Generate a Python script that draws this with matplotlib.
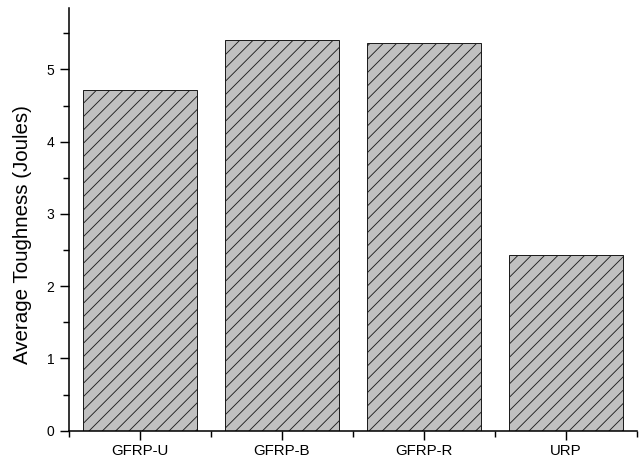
import matplotlib
matplotlib.use("Agg")
import matplotlib.pyplot as plt
from matplotlib.ticker import MultipleLocator, FixedLocator

# ------------------ DATA ------------------
samples = ["GFRP-U", "GFRP-B", "GFRP-R", "URP"]
toughness = [4.72, 5.41, 5.37, 2.43]

plt.rcParams["font.family"] = ["Liberation Sans", "DejaVu Sans"]
plt.rcParams["hatch.color"] = "#3c3c3c"
plt.rcParams["hatch.linewidth"] = 0.8

# dpi 80 so the '//' hatch spacing is close to the original
DPI = 80
W, H = 643, 462
fig = plt.figure(figsize=(W / DPI, H / DPI), dpi=DPI)
ax = fig.add_axes([69 / W, (H - 430.7) / H, 568 / W, (430.7 - 8) / H])

x = range(len(samples))
ax.bar(x, toughness, width=0.8, color="#c0c0c0", edgecolor="#1e1e1e",
       linewidth=0.9, hatch="//")

ax.set_xlim(-0.5, len(samples) - 0.5)
ax.set_ylim(0, 5.85)

# category labels at the centres, small ticks at the category boundaries
ax.set_xticks(list(x))
ax.set_xticklabels(samples)
ax.xaxis.set_minor_locator(FixedLocator([i - 0.5 for i in range(len(samples) + 1)]))
ax.yaxis.set_major_locator(MultipleLocator(1))
ax.yaxis.set_minor_locator(MultipleLocator(0.5))

ax.tick_params(axis="both", which="major", direction="out", length=8, width=1.3)
ax.tick_params(axis="both", which="minor", direction="out", length=5, width=1.3)
ax.tick_params(axis="x", which="major", labelsize=13.5, pad=4)
ax.tick_params(axis="y", which="major", labelsize=12.5, pad=5)

ax.set_ylabel("Average Toughness (Joules)", fontsize=18.5)
ax.yaxis.set_label_coords(-0.065, 0.465)

for side in ["top", "right"]:
    ax.spines[side].set_visible(False)
for side in ["left", "bottom"]:
    ax.spines[side].set_linewidth(1.4)

fig.savefig("out.png", dpi=DPI)
